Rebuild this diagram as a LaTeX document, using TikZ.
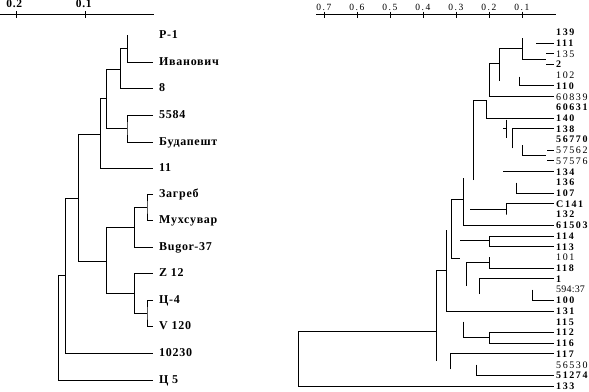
\documentclass[tikz,border=0pt]{standalone}
\usepackage{fontspec}
\setmainfont{Liberation Serif}
\newfontfamily\lfont[LetterSpace=6]{Liberation Serif}
\newfontfamily\rfont[LetterSpace=16]{Liberation Serif}
\newfontfamily\rfontc[LetterSpace=2]{Liberation Serif}
\tikzset{
  lleaf/.style={anchor=west, inner xsep=6pt, inner ysep=0pt, text height=7.9pt, text depth=0pt,
    font={\lfont\bfseries\fontsize{12pt}{14pt}\selectfont}},
  rln/.style={anchor=west, inner xsep=2.5pt, inner ysep=0pt, text height=6.8pt, text depth=0pt,
    font={\rfont\fontsize{10pt}{12pt}\selectfont}},
  rlb/.style={rln, font={\rfont\bfseries\fontsize{10pt}{12pt}\selectfont}},
  rlc/.style={rln, font={\rfontc\fontsize{10pt}{12pt}\selectfont}},
  laxis/.style={anchor=base, inner sep=0pt, font={\lfont\bfseries\fontsize{11.5pt}{13pt}\selectfont}},
  raxis/.style={anchor=base, inner sep=0pt, font={\rfont\fontsize{9.5pt}{11pt}\selectfont}},
  tree/.style={line width=0.9pt, line join=miter}
}
\begin{document}
\begin{tikzpicture}[x=1pt,y=-1pt]
\useasboundingbox[fill=white] (0,0) rectangle (589,391);

% ---------------- left axis ----------------
\coordinate (la0) at (0,14);
\coordinate (la1) at (154,14);
\draw[tree] (la0) -- (la1);
\foreach \x/\t in {16.3/0.2, 85.7/0.1}{
  \draw[tree] (\x,11) -- (\x,17.5);
  \node[laxis] at (\x-2,7.8) {\t};
}

% ---------------- left leaves ----------------
\node[lleaf] (L1)  at (153,35)  {P-1};
\node[lleaf] (L2)  at (153,62)  {Иванович};
\node[lleaf] (L3)  at (153,88)  {8};
\node[lleaf] (L4)  at (153,115) {5584};
\node[lleaf] (L5)  at (153,142) {Будапешт};
\node[lleaf] (L6)  at (153,168) {11};
\node[lleaf] (L7)  at (153,194) {Загреб};
\node[lleaf] (L8)  at (153,220) {Мухсувар};
\node[lleaf] (L9)  at (153,247) {Bugor-37};
\node[lleaf] (L10) at (153,273) {Z 12};
\node[lleaf] (L11) at (153,300) {Ц-4};
\node[lleaf] (L12) at (153,326) {V 120};
\node[lleaf] (L13) at (153,353) {10230};
\node[lleaf] (L14) at (153,380) {Ц 5};

% ---------------- left tree ----------------
\coordinate (k1) at (127,35);
\draw[tree] (k1) |- (L2.west);
\coordinate (k2) at (120,48.3);
\draw[tree] (k2) -- (k1 |- k2);
\draw[tree] (k2) |- (L3.west);
\coordinate (k3) at (106,69.3);
\draw[tree] (k3) -- (k2 |- k3);
\coordinate (k4) at (127,128);
\draw[tree] (L4.west) -| (k4) |- (L5.west);
\draw[tree] (k3) |- (k4);
\coordinate (k5) at (100,98.3);
\draw[tree] (k5) -- (k3 |- k5);
\draw[tree] (k5) |- (L6.west);
\coordinate (k6) at (78,134.3);
\draw[tree] (k6) -- (k5 |- k6);
\coordinate (k7) at (147,207.3);
\draw[tree] (L7.west) -| (k7) |- (L8.west);
\coordinate (k8) at (134,207.3);
\draw[tree] (k8) -- (k7);
\draw[tree] (k8) |- (L9.west);
\coordinate (k9) at (106,227.3);
\draw[tree] (k9) -- (k8 |- k9);
\coordinate (k10) at (147,313.3);
\draw[tree] (L11.west) -| (k10) |- (L12.west);
\coordinate (k11) at (134,313.3);
\draw[tree] (k11) -- (k10);
\draw[tree] (k11) |- (L10.west);
\coordinate (k12) at (106,293.3);
\draw[tree] (k12) -- (k11 |- k12);
\draw[tree] (k9) -- (k12);
\coordinate (k13) at (78,261);
\draw[tree] (k13) -- (k9 |- k13);
\draw[tree] (k6) -- (k13);
\coordinate (k14) at (65,198.3);
\draw[tree] (k14) -- (k6 |- k14);
\draw[tree] (k14) |- (L13.west);
\coordinate (k15) at (58.3,275);
\draw[tree] (k15) -- (k14 |- k15);
\draw[tree] (k15) |- (L14.west);

% ---------------- right axis ----------------
\coordinate (ra0) at (316,14.7);
\coordinate (ra1) at (555.7,14.7);
\draw[tree] (ra0) -- (ra1);
\foreach \x/\t in {324.3/0.7, 357.3/0.6, 390.3/0.5, 423.3/0.4, 456.3/0.3, 489.3/0.2, 522.3/0.1}{
  \draw[tree] (\x,11.5) -- (\x,17.5);
  \node[raxis] at (\x-0.5,10) {\t};
}

% ---------------- right leaves ----------------
\foreach \t/\w [count=\i from 0] in {139/b,111/b,135/n,2/b,102/n,110/b,60839/n,60631/b,140/b,138/b,
  56770/b,57562/n,57576/n,134/b,136/b,107/b,C141/b,132/b,61503/b,114/b,113/b,101/n,118/b,1/b,
  594:37/c,100/b,131/b,115/b,112/b,116/b,117/b,56530/n,51274/b,133/b}{
  \pgfmathsetmacro{\yy}{32.3+10.72*\i}
  \node[rl\w] (r\i) at (553.5,\yy) {\t};
}

% ---------------- right tree ----------------
\coordinate (a1) at (522.5,38.3);
\coordinate (a2) at (546,59.3);
\draw[tree] (a1) |- (a2);
\draw[tree] (r1.west) -- ++(-17.5,0);
\draw[tree] (r2.west) -- ++(-7.5,0);
\draw[tree] (r3.west) -- ++(-7.5,0);
\coordinate (a3) at (522.5,48.3);
\coordinate (a4) at (499.5,80.5);
\draw[tree] (a3) -| (a4);
\coordinate (a5) at (519.3,76.7);
\draw[tree] (a5) |- (r5.west);
\coordinate (a6) at (499.5,63);
\coordinate (a7) at (489.3,63);
\draw[tree] (a6) -- (a7) |- (r6.west);
\coordinate (b1) at (473.3,180);
\coordinate (b2) at (486,100.7);
\draw[tree] (b1) |- (b2) |- (r8.west);
\coordinate (b3) at (503.3,128.3);
\draw[tree] (b3) -- ++(3.4,0);
\coordinate (b4) at (506.7,119.6);
\draw[tree] (b4) -- ++(0,18.2);
\coordinate (b5) at (512.7,148.3);
\draw[tree] (b5) |- (r9.west);
\coordinate (b6) at (522.7,145);
\coordinate (b7) at (546,155);
\draw[tree] (b6) |- (b7);
\draw[tree] (r11.west) -- ++(-7,0);
\draw[tree] (r12.west) -- ++(-7,0);
\draw[tree] (r13.west) -- ++(-50.8,0);
\coordinate (c1) at (516.7,182.7);
\draw[tree] (c1) |- (r15.west);
\coordinate (c2) at (470,209.3);
\coordinate (c3) at (506.3,214.5);
\draw[tree] (c2) -| (c3) |- (r16.west);
\coordinate (c4) at (463.3,178);
\draw[tree] (c4) |- (r18.west);
\coordinate (c5) at (463.3,199.3);
\coordinate (c6) at (451,199.3);
\coordinate (c7) at (460,258.3);
\draw[tree] (c5) -- (c6) |- (c7);
\coordinate (d1) at (460,240.5);
\coordinate (d2) at (489.3,240.5);
\draw[tree] (d1) -- (d2);
\draw[tree] (r19.west) -| (d2) |- (r20.west);
\coordinate (d3) at (446,230);
\draw[tree] (d3) |- (r26.west);
\coordinate (d4) at (436.7,270);
\coordinate (d5) at (446,270);
\draw[tree] (d4) -- (d5);
\coordinate (d6) at (466,286);
\coordinate (d7) at (489.3,262.7);
\draw[tree] (d6) |- (d7);
\coordinate (d8) at (489.3,257.4);
\draw[tree] (d8) |- (r22.west);
\coordinate (d9) at (479.3,294);
\draw[tree] (d9) |- (r23.west);
\coordinate (d10) at (532.7,289.6);
\draw[tree] (d10) |- (r25.west);
\coordinate (e1) at (436.7,361);
\draw[tree] (e1) -- (d4);
\coordinate (e2) at (436.7,331);
\coordinate (e3) at (298.3,331);
\draw[tree] (e2) -- (e3) |- (r33.west);
\coordinate (e4) at (463.3,321.7);
\coordinate (e5) at (489.3,337.8);
\draw[tree] (e4) |- (e5);
\draw[tree] (r28.west) -| (e5) |- (r29.west);
\coordinate (e6) at (450.7,369.3);
\draw[tree] (e6) |- (r30.west);
\coordinate (e7) at (476.7,364.6);
\draw[tree] (e7) |- (r32.west);
\end{tikzpicture}
\end{document}
